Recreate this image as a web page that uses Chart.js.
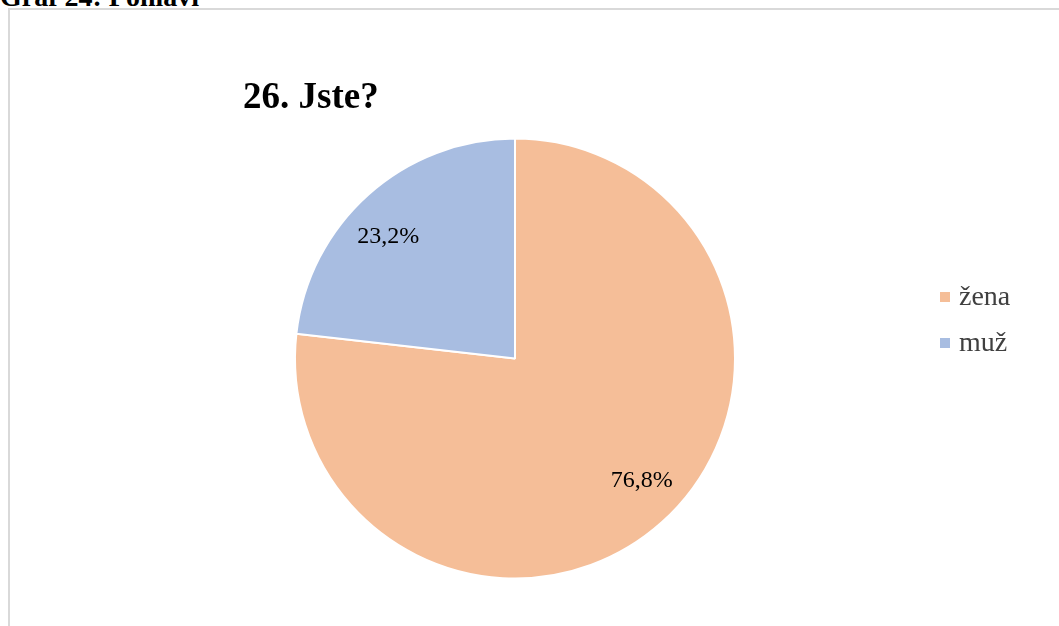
<!DOCTYPE html>
<html>
<head>
<meta charset="utf-8">
<script src="https://cdn.jsdelivr.net/npm/chart.js@4"></script>
<style>
  html, body { margin: 0; padding: 0; background: #fff; overflow: hidden; }
  body { width: 1059px; height: 626px; position: relative; }
  #caption { position: absolute; left: 0; top: -17px; font: bold 28px/28px "Liberation Serif", serif; color: #000; white-space: nowrap; }
  #frame { position: absolute; left: 8px; top: 8px; width: 1100px; height: 700px; border: 2px solid #d9d9d9; }
  #wrap { position: absolute; left: 0; top: 0; width: 1059px; height: 626px; }
</style>
</head>
<body>
<div id="caption">Graf 24: Pohlaví</div>
<div id="frame"></div>
<div id="wrap"><canvas id="myChart"></canvas></div>
<script>
const labels = ["žena", "muž"];
const values = [76.8, 23.2];
const colors = ["#F5BE98", "#A8BDE1"];
const chartTitle = "26. Jste?";

// title, percent labels and legend drawn on top of the pie
const extras = {
  id: "extras",
  afterDraw(chart) {
    const ctx = chart.ctx;
    ctx.save();
    ctx.fillStyle = "#000";
    ctx.font = "bold 37px 'Liberation Serif', serif";
    ctx.textAlign = "left";
    ctx.textBaseline = "alphabetic";
    ctx.fillText(chartTitle, 243, 108);

    const meta = chart.getDatasetMeta(0);
    ctx.font = "24px 'Liberation Serif', serif";
    ctx.textAlign = "center";
    ctx.textBaseline = "middle";
    meta.data.forEach((arc, i) => {
      // excel "best fit" sits a little anticlockwise of the slice middle
      const mid = (arc.startAngle + arc.endAngle) / 2 - 0.075;
      const r = arc.outerRadius * 0.8;
      const x = arc.x + Math.cos(mid) * r;
      const y = arc.y + Math.sin(mid) * r;
      ctx.fillText(values[i].toFixed(1).replace(".", ",") + "%", x, y);
    });

    ctx.font = "28px 'Liberation Serif', serif";
    ctx.textAlign = "left";
    ctx.textBaseline = "alphabetic";
    labels.forEach((l, i) => {
      const y = 297 + i * 46;
      ctx.fillStyle = colors[i];
      ctx.fillRect(940, y - 5, 10, 10);
      ctx.fillStyle = "#404040";
      ctx.fillText(l, 959, y + 8);
    });
    ctx.restore();
  },
};

const config = {
  type: "pie",
  data: {
    labels: labels,
    datasets: [
      {
        data: values,
        backgroundColor: colors,
        borderColor: "#ffffff",
        borderWidth: 2,
      },
    ],
  },
  options: {
    responsive: true,
    maintainAspectRatio: false,
    animation: false,
    layout: { padding: { top: 137, bottom: 46, left: 294, right: 323 } },
    plugins: {
      legend: { display: false },
      tooltip: { enabled: false },
    },
  },
  plugins: [extras],
};

var myChart = new Chart(document.getElementById("myChart"), config);
</script>
</body>
</html>
